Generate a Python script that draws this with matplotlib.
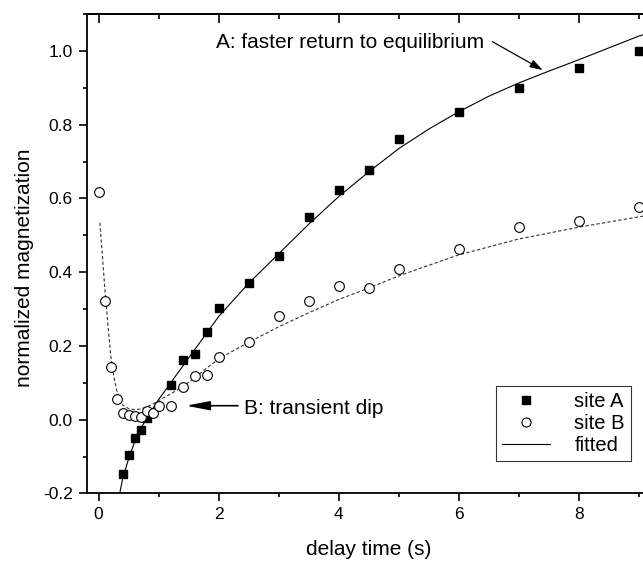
import matplotlib
matplotlib.use("Agg")
import matplotlib.pyplot as plt
from matplotlib.lines import Line2D
from matplotlib.ticker import FixedLocator, MultipleLocator

plt.rcParams['font.family'] = ['Liberation Sans', 'DejaVu Sans']

# measured points
site_a_t = [0.4, 0.5, 0.6, 0.7, 0.8, 1.2, 1.4, 1.6, 1.8, 2.0, 2.5, 3.0, 3.5,
            4.0, 4.5, 5.0, 6.0, 7.0, 8.0, 9.0]
site_a_m = [-0.148, -0.095, -0.049, -0.029, 0.005, 0.093, 0.163, 0.179, 0.238,
            0.302, 0.372, 0.445, 0.550, 0.623, 0.678, 0.761, 0.833, 0.899,
            0.954, 1.000]

site_b_t = [0.0, 0.1, 0.2, 0.3, 0.4, 0.5, 0.6, 0.7, 0.8, 0.9, 1.0, 1.2, 1.4,
            1.6, 1.8, 2.0, 2.5, 3.0, 3.5, 4.0, 4.5, 5.0, 6.0, 7.0, 8.0, 9.0]
site_b_m = [0.618, 0.322, 0.142, 0.055, 0.019, 0.014, 0.010, 0.008, 0.023,
            0.018, 0.036, 0.037, 0.089, 0.118, 0.122, 0.169, 0.210, 0.280,
            0.323, 0.362, 0.356, 0.409, 0.463, 0.522, 0.538, 0.578]

# fitted curves
fit_a_t = [0.35, 0.4, 0.5, 0.6, 0.7, 0.8, 0.9, 1.0, 1.2, 1.4, 1.6, 1.8, 2.0,
           2.5, 3.0, 3.5, 4.0, 4.5, 5.0, 5.5, 6.0, 6.5, 7.0, 7.5, 8.0, 8.5,
           9.0, 9.2]
fit_a_m = [-0.200, -0.160, -0.105, -0.060, -0.025, 0.005, 0.030, 0.055, 0.100,
           0.145, 0.190, 0.235, 0.280, 0.370, 0.450, 0.530, 0.605, 0.672,
           0.735, 0.788, 0.835, 0.877, 0.913, 0.945, 0.976, 1.008, 1.040,
           1.050]

fit_b_t = [0.02, 0.05, 0.1, 0.15, 0.2, 0.25, 0.3, 0.35, 0.4, 0.5, 0.6, 0.7,
           0.8, 0.9, 1.0, 1.2, 1.4, 1.6, 1.8, 2.0, 2.5, 3.0, 3.5, 4.0, 4.5,
           5.0, 6.0, 7.0, 8.0, 9.0, 9.2]
fit_b_m = [0.534, 0.470, 0.360, 0.265, 0.175, 0.120, 0.080, 0.055, 0.040,
           0.030, 0.027, 0.029, 0.035, 0.042, 0.052, 0.070, 0.090, 0.113,
           0.140, 0.165, 0.210, 0.252, 0.290, 0.326, 0.357, 0.390, 0.447,
           0.490, 0.522, 0.550, 0.555]

x_major = [0, 2, 4, 6, 8]
x_minor = [1, 3, 5, 7, 9]

fig = plt.figure(figsize=(6.43, 5.62), dpi=100)
# axes runs past the right edge, like the cropped original
ax = fig.add_axes([0.1348, 0.1219, 0.952, 0.8532])

ax.plot(fit_a_t, fit_a_m, color='k', lw=0.8, zorder=2)
ax.plot(fit_b_t, fit_b_m, color='#333333', lw=0.8, ls=(0, (3, 2)), zorder=2)
ax.plot(site_a_t, site_a_m, 's', color='k', ms=6, zorder=3)
ax.plot(site_b_t, site_b_m, 'o', mfc='white', mec='k', mew=0.8, ms=7,
        zorder=4)

ax.set_xlim(-0.2, 10.0)
ax.set_ylim(-0.2, 1.1)
ax.xaxis.set_major_locator(FixedLocator(x_major))
ax.xaxis.set_minor_locator(FixedLocator(x_minor))
ax.yaxis.set_major_locator(MultipleLocator(0.2))
ax.yaxis.set_minor_locator(MultipleLocator(0.1))
ax.yaxis.set_major_formatter(lambda v, p: f"{v:.1f}")

for s in ax.spines.values():
    s.set_linewidth(1.3)
ax.tick_params(which='major', direction='out', length=6, width=1.2,
               labelsize=12.5, pad=4)
ax.tick_params(which='minor', direction='out', length=3, width=1.2)

top = ax.secondary_xaxis('top')
top.xaxis.set_major_locator(FixedLocator(x_major))
top.xaxis.set_minor_locator(FixedLocator(x_minor))
top.tick_params(which='major', direction='in', length=6.5, width=1.2,
                labeltop=False)
top.tick_params(which='minor', direction='in', length=3.5, width=1.2)
top.spines['top'].set_linewidth(1.3)

ax.set_xlabel("delay time (s)", fontsize=15)
ax.xaxis.set_label_coords(0.461, -0.098)
ax.set_ylabel("normalized magnetization", fontsize=15)
ax.yaxis.set_label_coords(-0.086, 0.47)

ax.text(1.95, 1.009, "A: faster return to equilibrium", fontsize=15,
        va='baseline')
ax.annotate("", xy=(7.40, 0.948), xytext=(6.56, 1.025),
            arrowprops=dict(arrowstyle="-|>,head_length=0.7,head_width=0.22",
                            color='k', lw=0.9, mutation_scale=11,
                            shrinkA=0, shrinkB=0))
ax.text(2.425, 0.0155, "B: transient dip", fontsize=15, va='baseline')
ax.annotate("", xy=(1.455, 0.038), xytext=(2.32, 0.038),
            arrowprops=dict(arrowstyle="-|>,head_length=1.3,head_width=0.25",
                            color='k', lw=1.2, mutation_scale=11,
                            shrinkA=0, shrinkB=0))

handles = [
    Line2D([], [], marker='s', ls='none', color='k', ms=5.5),
    Line2D([], [], marker='o', ls='none', mfc='white', mec='k', mew=0.8,
           ms=6.5),
    Line2D([], [], color='k', lw=0.8),
]
leg = ax.legend(handles, ["site A", "site B", "fitted"], loc='upper left',
                bbox_to_anchor=(0.771, 0.313),
                bbox_transform=fig.transFigure, fontsize=14.5,
                frameon=True, fancybox=False, borderaxespad=0,
                borderpad=0.3, labelspacing=0.15, handlelength=2.4,
                handletextpad=1.2)
leg.get_frame().set_edgecolor('k')
leg.get_frame().set_linewidth(0.8)

fig.savefig("out.png", dpi=100)
